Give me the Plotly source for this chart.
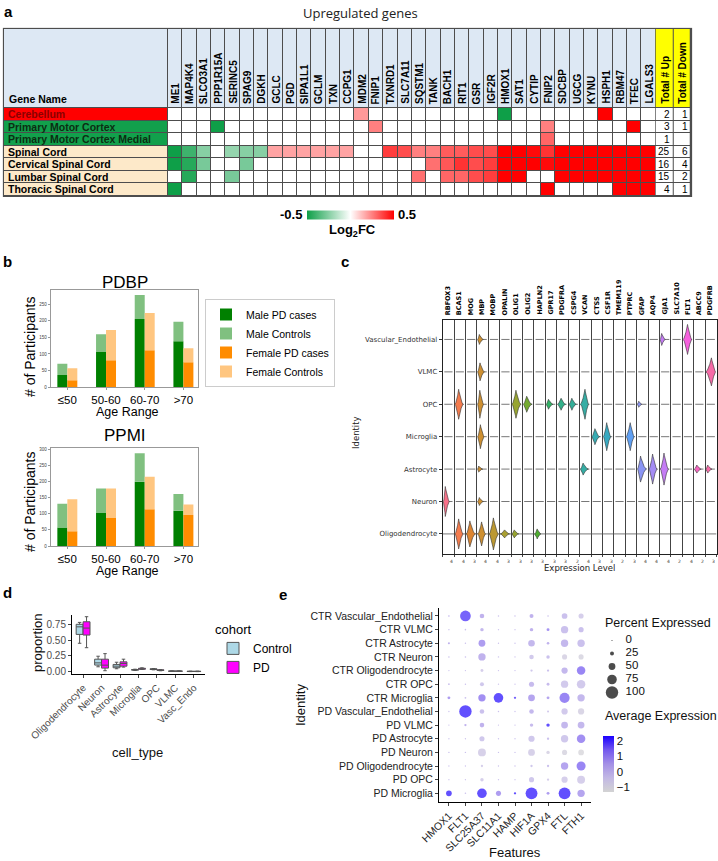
import plotly.graph_objects as go

W, H = 718, 861
def xd(a, b): return [a / W, b / W]
def yd(top, bottom): return [1 - bottom / H, 1 - top / H]
def PX(p): return p / W
def PY(p): return 1 - p / H

ARIAL = "Liberation Sans"
DEJAVU = "DejaVu Sans"

# ---------------- Panel a data ----------------
a_genes = ["ME1", "MAP4K4", "SLCO3A1", "PPP1R15A", "SERINC5", "SPAG9", "DGKH", "GCLC", "PGD",
           "SIPA1L1", "GCLM", "TXN", "CCPG1", "MDM2", "FNIP1", "TXNRD1", "SLC7A11", "SQSTM1",
           "TANK", "BACH1", "RIT1", "GSR", "IGF2R", "HMOX1", "SAT1", "CYTIP", "FNIP2", "SDCBP",
           "UGCG", "KYNU", "HSPH1", "RBM47", "TFEC", "LGALS3"]
a_tissues = ["Cerebellum", "Primary Motor Cortex", "Primary Motor Cortex Medial", "Spinal Cord",
             "Cervical Spinal Cord", "Lumbar Spinal Cord", "Thoracic Spinal Cord"]
a_tissue_group = [0, 1, 1, 2, 2, 2, 2]
a_log2fc = [
    [0, 0, 0, 0, 0, 0, 0, 0, 0, 0, 0, 0, 0, 0.2, 0, 0, 0, 0, 0, 0, 0, 0, 0, -0.5, 0, 0, 0, 0, 0, 0, 0.5, 0, 0, 0],
    [0, 0, 0, -0.5, 0, 0, 0, 0, 0, 0, 0, 0, 0, 0, 0.25, 0, 0, 0, 0, 0, 0, 0, 0, 0, 0, 0, 0.25, 0, 0, 0, 0, 0, 0.5, 0],
    [0, 0, 0, 0, 0, 0, 0, 0, 0, 0, 0, 0, 0, 0, 0, 0, 0, 0, 0, 0, 0, 0, 0, 0, 0, 0, 0.3, 0, 0, 0, 0, 0, 0, 0],
    [-0.5, -0.4, -0.25, 0, -0.22, -0.25, -0.25, 0.18, 0.18, 0.18, 0.18, 0.18, 0.18, 0, 0,
     0.38, 0.35, 0.25, 0.25, 0.32, 0.32, 0.35, 0.35, 0.5, 0.5, 0.48, 0.4, 0.5, 0.5, 0.5, 0.5, 0.5, 0.5, 0.5],
    [-0.5, -0.45, -0.28, 0, 0, -0.28, 0, 0, 0, 0, 0, 0, 0, 0, 0,
     0, 0, 0, 0.28, 0.33, 0.4, 0.35, 0.38, 0.5, 0.5, 0.5, 0.48, 0.5, 0.5, 0.5, 0.5, 0.5, 0.5, 0.5],
    [0, -0.45, 0, 0, -0.28, 0, 0, 0, 0, 0, 0, 0, 0, 0, 0,
     0, 0, 0.28, 0, 0.3, 0.3, 0.35, 0.38, 0.5, 0.5, 0, 0, 0.5, 0.5, 0.5, 0.5, 0.5, 0.5, 0.5],
    [-0.5, 0, 0, 0, 0, 0, 0, 0, 0, 0, 0, 0, 0, 0, 0,
     0, 0, 0, 0, 0, 0, 0, 0, 0, 0, 0, 0.5, 0, 0, 0, 0, 0.5, 0.5, 0.5],
]
a_total_up = ["2", "3", "1", "25", "16", "15", "4"]
a_total_down = ["1", "1", "", "6", "4", "2", "1"]

# ---------------- Panel b data ----------------
b_age = ["≤50", "50-60", "60-70", ">70"]
pdbp_male_pd = [37, 106, 205, 138]
pdbp_male_ctrl = [34, 53, 72, 59]
pdbp_female_pd = [21, 81, 111, 75]
pdbp_female_ctrl = [36, 91, 112, 42]
ppmi_male_pd = [57, 102, 199, 109]
ppmi_male_ctrl = [74, 76, 89, 52]
ppmi_female_pd = [46, 87, 114, 96]
ppmi_female_ctrl = [99, 91, 101, 33]

# ---------------- Panel c data ----------------
c_genes = ["RBFOX3", "BCAS1", "MOG", "MBP", "MOBP", "OPALIN", "OLIG1", "OLIG2", "HAPLN2", "GPR17",
           "PDGFRA", "CSPG4", "VCAN", "CTSS", "CSF1R", "TMEM119", "PTPRC", "GFAP", "AQP4", "GJA1",
           "SLC7A10", "FLT1", "ABCC9", "PDGFRB"]
c_colors = ["#f77189", "#f37b4d", "#dc8532", "#ce9032", "#bb9832", "#a99f32", "#97a431", "#74aa31",
            "#4fae31", "#32b166", "#33b08a", "#34ae98", "#36ada4", "#37abb2", "#38a9c0", "#39a7d0",
            "#5f9ff2", "#8b95f4", "#a48cf4", "#c47cf4", "#e168f4", "#f561dd", "#f565c0", "#f66ba7"]
c_celltypes = ["Vascular_Endothelial", "VLMC", "OPC", "Microglia", "Astrocyte", "Neuron", "Oligodendrocyte"]
c_axis_max = ["4", "4", "3", "4", "4", "3", "3", "3", "3", "3", "3", "2", "4", "3", "3", "2",
              "3", "4", "4", "4", "2", "4", "2", "3"]
c_row_continuous = [0, 0, 0, 0, 0, 0, 1]
# violins: row index, gene index, density height (px), peak position, extent
v_row = [0, 0, 0, 1, 1, 2, 2, 2, 2, 2, 2, 2, 2, 2, 3, 3, 3, 3, 4, 4, 4, 4, 4, 4, 4, 5, 5, 6, 6, 6, 6, 6, 6, 6]
v_gene = [3, 19, 21, 3, 23, 1, 3, 6, 7, 9, 10, 11, 12, 17, 3, 13, 14, 16, 3, 12, 17, 18, 19, 22, 23, 0, 3, 1, 2, 3, 4, 5, 6, 8]
v_height = [10, 12, 30, 18, 28, 30, 28, 28, 16, 10, 12, 12, 30, 6, 24, 16, 28, 28, 6, 12, 26, 30, 32, 8, 8, 30, 8, 30, 26, 24, 32, 8, 8, 10]
v_peak = [0.3, 0.3, 0.5, 0.35, 0.55, 0.45, 0.35, 0.45, 0.4, 0.35, 0.45, 0.4, 0.55, 0.3, 0.4, 0.4, 0.45, 0.5,
          0.2, 0.35, 0.35, 0.45, 0.45, 0.35, 0.3, 0.3, 0.3, 0.45, 0.4, 0.5, 0.45, 0.45, 0.35, 0.4]
v_extent = [0.5, 0.45, 0.8, 0.6, 0.9, 0.75, 0.55, 0.8, 0.75, 0.6, 0.7, 0.65, 0.75, 0.4, 0.6, 0.7, 0.7, 0.75,
            0.45, 0.7, 0.8, 0.75, 0.75, 0.6, 0.55, 0.55, 0.5, 0.75, 0.8, 0.7, 0.85, 0.8, 0.6, 0.55]

# ---------------- Panel d data ----------------
d_types = ["Oligodendrocyte", "Neuron", "Astrocyte", "Microglia", "OPC", "VLMC", "Vasc_Endo"]
ctrl_q1 = [0.59, 0.105, 0.063, 0.025, 0.035, 0.006, 0.003]
ctrl_med = [0.71, 0.14, 0.088, 0.03, 0.04, 0.009, 0.005]
ctrl_q3 = [0.75, 0.198, 0.115, 0.035, 0.046, 0.012, 0.007]
ctrl_lo = [0.45, 0.078, 0.047, 0.02, 0.03, 0.004, 0.002]
ctrl_hi = [0.78, 0.245, 0.15, 0.04, 0.05, 0.014, 0.009]
pd_q1 = [0.58, 0.057, 0.088, 0.04, 0.02, 0.006, 0.003]
pd_med = [0.69, 0.104, 0.13, 0.045, 0.025, 0.009, 0.005]
pd_q3 = [0.79, 0.198, 0.156, 0.055, 0.03, 0.012, 0.007]
pd_lo = [0.38, 0.016, 0.073, 0.035, 0.015, 0.004, 0.002]
pd_hi = [0.87, 0.286, 0.198, 0.062, 0.035, 0.014, 0.009]

# ---------------- Panel e data ----------------
e_features = ["HMOX1", "FLT1", "SLC25A37", "SLC11A1", "HAMP", "HIF1A", "GPX4", "FTL", "FTH1"]
e_ids = ["CTR Vascular_Endothelial", "CTR VLMC", "CTR Astrocyte", "CTR Neuron", "CTR Oligodendrocyte",
         "CTR OPC", "CTR Microglia", "PD Vascular_Endothelial", "PD VLMC", "PD Astrocyte", "PD Neuron",
         "PD Oligodendrocyte", "PD OPC", "PD Microglia"]
e_pct = [
    [3, 85, 30, 2, 2, 25, 4, 40, 35],
    [2, 3, 20, 1, 1, 20, 15, 55, 35],
    [8, 2, 50, 1, 1, 48, 12, 55, 55],
    [3, 3, 55, 2, 1, 30, 20, 35, 35],
    [1, 1, 15, 1, 1, 10, 10, 45, 65],
    [5, 2, 25, 1, 1, 35, 15, 55, 65],
    [15, 5, 55, 75, 10, 50, 15, 80, 55],
    [1, 100, 30, 2, 1, 30, 8, 45, 45],
    [1, 10, 30, 1, 1, 20, 20, 50, 50],
    [1, 1, 35, 1, 1, 45, 10, 55, 65],
    [2, 2, 60, 1, 1, 50, 20, 35, 40],
    [1, 1, 10, 1, 1, 10, 10, 55, 70],
    [1, 1, 20, 1, 1, 35, 10, 45, 60],
    [40, 3, 75, 35, 10, 95, 15, 95, 55],
]
e_avg = [
    [0.5, 2.0, 0.5, 0.0, 0.0, 0.5, 0.0, 0.0, -0.5],
    [0.0, 0.0, 0.3, 0.0, 0.0, 0.5, 1.2, 0.0, 0.0],
    [0.5, 0.0, 1.0, 0.0, 0.0, 0.3, 0.5, 0.3, 0.0],
    [0.0, 0.0, 0.5, 0.0, 0.0, -0.3, 0.0, -0.8, -1.0],
    [0.0, 0.0, -0.5, 0.0, 0.0, -0.2, 0.0, 0.3, 1.5],
    [0.0, 0.0, -0.2, 0.0, 0.0, 0.2, 0.2, -0.3, -0.3],
    [1.0, 0.0, 1.3, 2.3, 2.0, 0.8, 0.8, 1.5, 0.3],
    [0.0, 2.3, 0.0, 0.0, 0.0, 0.3, -0.3, -0.3, -0.8],
    [0.0, 0.5, 0.5, 0.0, 0.0, 0.2, 2.3, 0.3, 0.3],
    [0.0, 0.0, -0.2, 0.0, 0.0, -0.2, 0.0, -0.2, 1.3],
    [0.0, 0.0, -0.6, 0.0, 0.0, -0.6, -0.8, -1.0, -1.2],
    [0.0, 0.0, -0.5, 0.0, 0.0, -0.2, 0.0, 0.8, 1.5],
    [0.0, 0.0, -0.5, 0.0, 0.0, -0.2, -0.5, -0.5, -0.5],
    [2.3, 0.0, 2.3, 1.0, 2.3, 2.3, 1.0, 2.3, 0.8],
]
e_size_legend = [0, 25, 50, 75, 100]
e_cbar_ticks = [-1, 0, 1, 2]

fig = go.Figure()
annotations = []
shapes = []

def ann(text, x, y, size, xanchor="center", yanchor="middle", family=ARIAL, color="#000", angle=0,
        bold=False, xref="paper", yref="paper", **kw):
    if text == "":
        return
    d = dict(text=text, x=x, y=y, xref=xref, yref=yref, showarrow=False, xanchor=xanchor,
             yanchor=yanchor, textangle=angle,
             font=dict(size=size, family=family, color=color, weight="bold" if bold else "normal"))
    d.update(kw)
    annotations.append(d)

# ================= Panel a: table heatmap =================
n_g = len(a_genes)
n_t = len(a_tissues)
cell_px = (655.7 - 168) / n_g
row_px = (195.7 - 108) / n_t
lbl_l = -0.5 - (168 - 4) / cell_px
up_r = n_g - 0.5 + (673.3 - 655.7) / cell_px
dn_r = up_r + (691 - 673.3) / cell_px
hdr_t = -0.5 - (108 - 29) / row_px
ux = 1 / cell_px
uy = 1 / row_px
grid = "#4d4d4d"
hm_common = dict(xaxis="x", yaxis="y", xgap=1, ygap=1, hoverinfo="skip")

fig.add_trace(go.Heatmap(z=a_log2fc, x=list(range(n_g)), y=list(range(n_t)), zmin=-0.5, zmax=0.5,
                         colorscale=[[0, "#0e9f48"], [0.5, "#ffffff"], [1, "#ff0000"]],
                         colorbar=dict(orientation="h", x=PX(350), xanchor="center", y=PY(214.5),
                                       yanchor="middle", len=87, lenmode="pixels", thickness=9,
                                       xpad=0, ypad=0,
                                       showticklabels=False, ticks="", outlinewidth=0),
                         **hm_common))
fig.add_trace(go.Heatmap(z=[[1] * n_g], x=list(range(n_g)), y=[hdr_t, -0.5], showscale=False,
                         colorscale=[[0, "#dde8f4"], [1, "#dde8f4"]], **hm_common))
fig.add_trace(go.Heatmap(z=[[g] for g in a_tissue_group], x=[lbl_l, -0.5], y=list(range(n_t)),
                         zmin=0, zmax=2, showscale=False,
                         colorscale=[[0, "#ff0000"], [0.5, "#12a04c"], [1, "#fde9c9"]], **hm_common))
fig.add_trace(go.Heatmap(z=[[1]], x=[lbl_l, -0.5], y=[hdr_t, -0.5], showscale=False,
                         colorscale=[[0, "#dde8f4"], [1, "#dde8f4"]], **hm_common))
fig.add_trace(go.Heatmap(z=[[1, 1]], x=[n_g - 0.5, up_r, dn_r], y=[hdr_t, -0.5], showscale=False,
                         colorscale=[[0, "#ffff00"], [1, "#ffff00"]], **hm_common))
fig.add_trace(go.Heatmap(z=[[1, 1] for _ in range(n_t)], x=[n_g - 0.5, up_r, dn_r], y=list(range(n_t)),
                         showscale=False, colorscale=[[0, "#ffffff"], [1, "#ffffff"]], **hm_common))
shapes.append(dict(type="rect", xref="x", yref="y", x0=lbl_l - 1.2 * ux, x1=dn_r + 1.2 * ux,
                   y0=hdr_t - 1.2 * uy, y1=n_t - 0.5 + 1.2 * uy, fillcolor=grid, line=dict(width=0),
                   layer="below"))

for i, g in enumerate(a_genes):
    ann(g, i, -0.5, 10, yanchor="bottom", angle=-90, bold=True, xref="x", yref="y", yshift=2)
ann("Total # Up", (n_g - 0.5 + up_r) / 2, -0.5, 10, yanchor="bottom", angle=-90, bold=True,
    xref="x", yref="y", yshift=2)
ann("Total # Down", (up_r + dn_r) / 2, -0.5, 10, yanchor="bottom", angle=-90, bold=True,
    xref="x", yref="y", yshift=2)
ann("Gene Name", lbl_l, -0.5, 10.5, xanchor="left", yanchor="bottom", bold=True, xref="x", yref="y",
    xshift=3, yshift=1)
tissue_txt_colors = ["#8b0000", "#0b2e12", "#0b2e12", "#000", "#000", "#000", "#000"]
for i, t in enumerate(a_tissues):
    ann(t, lbl_l, i, 10.5, xanchor="left", bold=True, xref="x", yref="y", xshift=2,
        color=tissue_txt_colors[i])
    ann(a_total_up[i], up_r, i, 10, xanchor="right", xref="x", yref="y", xshift=-1.5)
    ann(a_total_down[i], dn_r, i, 10, xanchor="right", xref="x", yref="y", xshift=-1.5)

ann("Upregulated genes", PX(361), PY(13), 13, family="Open Sans", color="#222")
ann("-0.5", PX(304), PY(214.5), 13, xanchor="right", bold=True)
ann("0.5", PX(396), PY(214.5), 13, xanchor="left", bold=True)
ann("Log<sub>2</sub>FC", PX(352), PY(230), 13, bold=True)

# ================= Panel b: bar charts =================
b_x = list(range(len(b_age)))
bw = 0.258
b_colors = ["#008000", "#80c080", "#ff8c00", "#ffc680"]
b_names = ["Male PD cases", "Male Controls", "Female PD cases", "Female Controls"]
for (xa, ya, mpd, mct, fpd, fct, show) in [
        ("x2", "y2", pdbp_male_pd, pdbp_male_ctrl, pdbp_female_pd, pdbp_female_ctrl, True),
        ("x3", "y3", ppmi_male_pd, ppmi_male_ctrl, ppmi_female_pd, ppmi_female_ctrl, False)]:
    fig.add_trace(go.Bar(x=b_x, y=mpd, width=bw, offset=-bw, marker=dict(color=b_colors[0], line=dict(width=0)),
                         name=b_names[0], xaxis=xa, yaxis=ya, showlegend=show, legend="legend"))
    fig.add_trace(go.Bar(x=b_x, y=mct, base=mpd, width=bw, offset=-bw,
                         marker=dict(color=b_colors[1], line=dict(width=0)),
                         name=b_names[1], xaxis=xa, yaxis=ya, showlegend=show, legend="legend"))
    fig.add_trace(go.Bar(x=b_x, y=fpd, width=bw, offset=0, marker=dict(color=b_colors[2], line=dict(width=0)),
                         name=b_names[2], xaxis=xa, yaxis=ya, showlegend=show, legend="legend"))
    fig.add_trace(go.Bar(x=b_x, y=fct, base=fpd, width=bw, offset=0,
                         marker=dict(color=b_colors[3], line=dict(width=0)),
                         name=b_names[3], xaxis=xa, yaxis=ya, showlegend=show, legend="legend"))

ann("PDBP", PX(125), PY(282), 17)
ann("PPMI", PX(125), PY(436), 17)
ann("# of Participants", PX(30), PY(347), 14, angle=-90)
ann("# of Participants", PX(30), PY(502), 14, angle=-90)
ann("Age Range", PX(127), PY(412.5), 12.5)
ann("Age Range", PX(127), PY(570.5), 12.5)

# ================= Panel c: stacked violin =================
n_c = len(c_genes)
vrow_px = 32.4
for r in range(len(c_celltypes)):
    xs, ys = [], []
    for g in range(n_c):
        if c_row_continuous[r]:
            xs += [g, g + 1, None]
        else:
            xs += [g + 0.14, g + 0.86, None]
        ys += [r, r, None]
    fig.add_trace(go.Scatter(x=xs, y=ys, mode="lines", line=dict(color="#555", width=0.8),
                             xaxis="x4", yaxis="y4", showlegend=False, hoverinfo="skip"))
for k in range(len(v_row)):
    r, g, h, p, e = v_row[k], v_gene[k], v_height[k], v_peak[k], v_extent[k]
    n = 40
    top_x, top_y = [], []
    for s in range(n + 1):
        t = s / n
        d = p if t < p else (1 - p)
        f = max(0.0, 1 - abs(t - p) / d) ** 1.7
        top_x.append(g + 0.06 + t * e)
        top_y.append(r - f * (h / 2) / vrow_px)
    bot_x = top_x[::-1]
    bot_y = [2 * r - yy for yy in top_y[::-1]]
    fig.add_trace(go.Scatter(x=top_x + bot_x, y=top_y + bot_y, mode="lines", fill="toself",
                             fillcolor=c_colors[g], line=dict(color="#333", width=0.6),
                             xaxis="x4", yaxis="y4", showlegend=False, hoverinfo="skip"))
for g, name in enumerate(c_genes):
    ann(name, g + 0.45, -0.6, 6.5, family=DEJAVU, yanchor="bottom", angle=-90, bold=True,
        xref="x4", yref="y4", yshift=3)
    ann(c_axis_max[g], g + 0.78, 6.62, 4.5, family=DEJAVU, yanchor="top", xref="x4", yref="y4",
        yshift=-3, color="#333")
ann("Expression Level", PX(579), PY(568), 8.5, family=DEJAVU, color="#222")
ann("Identity", PX(356), PY(433), 8.5, family=DEJAVU, angle=-90, color="#222")

# ================= Panel d: box plot =================
d_x = list(range(len(d_types)))
fig.add_trace(go.Box(x=d_x, q1=ctrl_q1, median=ctrl_med, q3=ctrl_q3, lowerfence=ctrl_lo,
                     upperfence=ctrl_hi, name="Control", fillcolor="#add8e6",
                     line=dict(color="#555", width=1), xaxis="x5", yaxis="y5", legend="legend2",
                     hoverinfo="skip"))
fig.add_trace(go.Box(x=d_x, q1=pd_q1, median=pd_med, q3=pd_q3, lowerfence=pd_lo,
                     upperfence=pd_hi, name="PD", fillcolor="#ff00ff",
                     line=dict(color="#555", width=1), xaxis="x5", yaxis="y5", legend="legend2",
                     hoverinfo="skip"))
ann("proportion", PX(37), PY(643), 13, angle=-90, color="#111")
ann("cell_type", PX(137), PY(752), 13, color="#111")

# ================= Panel e: dot plot =================
def dot_size(p):
    return 1.2 + 0.112 * p

ex, ey, es, ec = [], [], [], []
for i in range(len(e_ids)):
    for j in range(len(e_features)):
        ex.append(j)
        ey.append(i)
        es.append(dot_size(e_pct[i][j]))
        ec.append(e_avg[i][j])
fig.add_trace(go.Scatter(
    x=ex, y=ey, mode="markers", xaxis="x6", yaxis="y6", showlegend=False, hoverinfo="skip",
    marker=dict(size=es, sizemode="diameter", color=ec, cmin=-1.3, cmax=2.35,
                colorscale=[[0, "#d3d3d3"], [0.25, "#c2b8e4"], [0.5, "#a490e6"], [0.75, "#7458ee"],
                            [1, "#1a00ff"]],
                line=dict(width=0),
                colorbar=dict(x=PX(603), xanchor="left", y=PY(763.5), yanchor="middle", len=56,
                              lenmode="pixels", thickness=11, thicknessmode="pixels", xpad=0, ypad=0,
                              tickvals=e_cbar_ticks, ticks="", outlinewidth=0,
                              tickfont=dict(size=11.5, family=ARIAL, color="#111")))))
fig.add_trace(go.Scatter(
    x=[0] * len(e_size_legend), y=list(range(len(e_size_legend))), mode="markers",
    marker=dict(size=[dot_size(v) for v in e_size_legend], color="#000", line=dict(width=0)),
    xaxis="x7", yaxis="y7", showlegend=False, hoverinfo="skip"))
fig.add_trace(go.Scatter(
    x=[0.85] * len(e_size_legend), y=list(range(len(e_size_legend))), mode="text",
    text=[str(v) for v in e_size_legend], textposition="middle right",
    textfont=dict(size=11.5, family=ARIAL, color="#111"),
    xaxis="x7", yaxis="y7", showlegend=False, hoverinfo="skip"))
ann("Percent Expressed", PX(603), PY(623), 12.5, xanchor="left", color="#111")
ann("Average Expression", PX(603), PY(716), 12.5, xanchor="left", color="#111")
ann("Identity", PX(300), PY(705), 13, angle=-90, color="#111")
ann("Features", PX(515), PY(852), 13, color="#111")

# panel letters
for t, x, y in [("a", 8, 11), ("b", 7, 262), ("c", 345, 262), ("d", 7, 592), ("e", 283, 594)]:
    ann(t, PX(x), PY(y), 15, bold=True)

# ================= Layout =================
xr_a = [lbl_l - 1.6 * ux, dn_r + 1.6 * ux]
yr_a = [n_t - 0.5 + 1.6 * uy, hdr_t - 1.6 * uy]

fig.update_layout(
    width=W, height=H, autosize=False, margin=dict(l=0, r=0, t=0, b=0, pad=0, autoexpand=False),
    paper_bgcolor="white", plot_bgcolor="white",
    font=dict(family=ARIAL, color="#000"),
    barmode="overlay", boxmode="group", boxgap=0.25, boxgroupgap=0.0,
    showlegend=True,
    xaxis=dict(domain=xd(4 - 1.6, 691 + 1.6), range=xr_a, visible=False, anchor="y"),
    yaxis=dict(domain=yd(29 - 1.6, 195.7 + 1.6), range=yr_a, visible=False, anchor="x"),
    xaxis2=dict(domain=xd(50.7, 198.3), range=[-0.43, 3.385], anchor="y2", tickvals=b_x, ticktext=b_age,
                tickfont=dict(size=11.5), ticks="outside", ticklen=2, tickcolor="#999",
                showline=True, mirror=True, linecolor="#999", showgrid=False, zeroline=False),
    yaxis2=dict(domain=yd(290, 387.3), range=[0, 292], anchor="x2", tickvals=[0, 50, 100, 150, 200, 250],
                tickfont=dict(size=4.5, color="#444"), ticks="outside", ticklen=2, tickcolor="#999",
                showline=True, mirror=True, linecolor="#999", showgrid=False, zeroline=False),
    xaxis3=dict(domain=xd(50.7, 198.3), range=[-0.43, 3.385], anchor="y3", tickvals=b_x, ticktext=b_age,
                tickfont=dict(size=11.5), ticks="outside", ticklen=2, tickcolor="#999",
                showline=True, mirror=True, linecolor="#999", showgrid=False, zeroline=False),
    yaxis3=dict(domain=yd(448, 546), range=[0, 304], anchor="x3",
                tickvals=[0, 50, 100, 150, 200, 250, 300],
                tickfont=dict(size=4.5, color="#444"), ticks="outside", ticklen=2, tickcolor="#999",
                showline=True, mirror=True, linecolor="#999", showgrid=False, zeroline=False),
    xaxis4=dict(domain=xd(442.7, 716.5), range=[0, n_c], anchor="y4", tickvals=list(range(n_c + 1)),
                showticklabels=False, showgrid=True, gridcolor="#444", gridwidth=1, ticks="outside",
                ticklen=2, tickcolor="#444", showline=True, mirror=True, linecolor="#222",
                zeroline=False),
    yaxis4=dict(domain=yd(320, 554), range=[6.62, -0.6], anchor="x4",
                tickvals=list(range(len(c_celltypes))), ticktext=c_celltypes,
                tickfont=dict(size=7, family=DEJAVU, color="#333"), ticks="outside", ticklen=3,
                tickcolor="#333", showline=True, mirror=True, linecolor="#222", showgrid=False,
                zeroline=False),
    xaxis5=dict(domain=xd(72, 205), range=[-0.6, 6.6], anchor="y5", tickvals=d_x, ticktext=d_types,
                tickangle=-45, tickfont=dict(size=10, color="#4d4d4d"), ticks="outside", ticklen=3,
                showline=True, linecolor="#000", showgrid=False, zeroline=False),
    yaxis5=dict(domain=yd(615, 674), range=[-0.036, 0.897], anchor="x5",
                tickvals=[0, 0.25, 0.5, 0.75], ticktext=["0.00", "0.25", "0.50", "0.75"],
                tickfont=dict(size=10, color="#4d4d4d"), ticks="outside", ticklen=3,
                showline=True, linecolor="#000", showgrid=False, zeroline=False),
    xaxis6=dict(domain=xd(439, 591), range=[-0.6, 8.6], anchor="y6",
                tickvals=list(range(len(e_features))), ticktext=e_features, tickangle=-45,
                tickfont=dict(size=10.5, color="#222"), ticks="outside", ticklen=3,
                showline=True, linecolor="#000", showgrid=False, zeroline=False),
    yaxis6=dict(domain=yd(607.8, 801.5), range=[len(e_ids) - 0.4, -0.6], anchor="x6",
                tickvals=list(range(len(e_ids))), ticktext=e_ids,
                tickfont=dict(size=10.5, color="#222"), ticks="outside", ticklen=3,
                showline=True, linecolor="#000", showgrid=False, zeroline=False),
    xaxis7=dict(domain=xd(604, 660), range=[-0.5, 3.0], anchor="y7", visible=False),
    yaxis7=dict(domain=yd(634, 699), range=[4.5, -0.5], anchor="x7", visible=False),
    legend=dict(x=PX(205), y=PY(299), xanchor="left", yanchor="top", bgcolor="white",
                bordercolor="#cccccc", borderwidth=1, font=dict(size=10.5, family=ARIAL),
                tracegroupgap=0, itemwidth=30),
    legend2=dict(x=PX(213), y=PY(617), xanchor="left", yanchor="top", bgcolor="rgba(0,0,0,0)",
                 title=dict(text="cohort", font=dict(size=13)), font=dict(size=12), tracegroupgap=0),
    annotations=annotations,
    shapes=shapes,
)

fig.write_html("out.html", config={"displayModeBar": False},
               post_script="document.body.style.margin='0';document.body.style.padding='0';")
